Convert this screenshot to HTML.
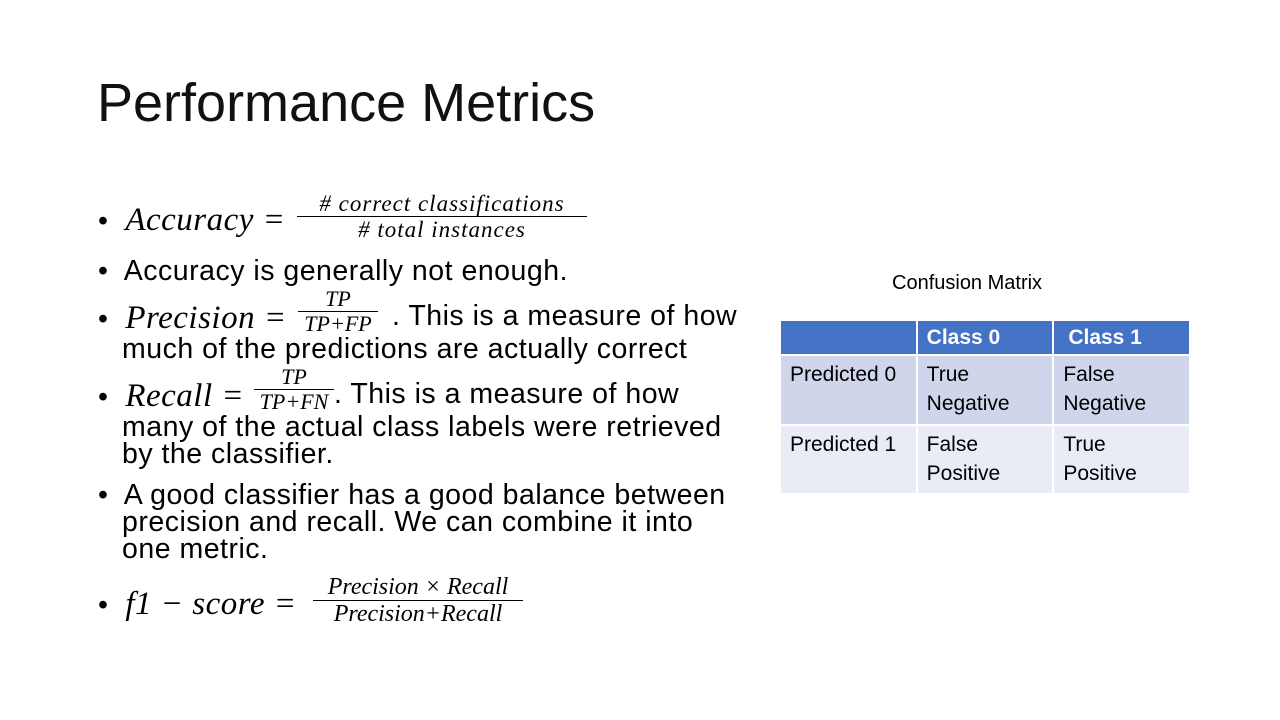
<!DOCTYPE html>
<html><head><meta charset="utf-8"><style>
body{margin:0;width:1280px;height:720px;background:#fff;position:relative;overflow:hidden;font-family:"Liberation Sans",sans-serif;color:#000}
.a{position:absolute;white-space:nowrap}
.m{font-family:"Liberation Serif",serif;font-style:italic;letter-spacing:0.5px}
.b{font-size:28.5px;letter-spacing:0.5px}
.frac{position:absolute;text-align:center;font-family:"Liberation Serif",serif;font-style:italic;line-height:1.1;letter-spacing:0}
.frac .n{border-bottom:1.5px solid #000;padding:0 2px}
table{border-collapse:collapse;font-size:21px;table-layout:fixed;width:412px}
td{padding:4px 9px;vertical-align:top;border:2px solid #fff;line-height:29px}
</style></head><body>
<div class="a" style="left:97px;top:72px;font-size:54px;color:#111">Performance Metrics</div>

<div class="a b" style="left:98px;top:202px">•&nbsp; <span class="m" style="font-size:33px">Accuracy =</span></div>
<div class="frac" style="left:297px;top:191px;font-size:23px;letter-spacing:1px;width:290px"><div class="n">#&nbsp;correct classifications</div><div>#&nbsp;total instances</div></div>

<div class="a b" style="left:98px;top:255px">•&nbsp; Accuracy is generally not enough.</div>

<div class="a b" style="left:98px;top:300px">•&nbsp; <span class="m" style="font-size:33px">Precision =</span></div>
<div class="frac" style="left:298px;top:287px;font-size:22px;width:80px"><div class="n">TP</div><div>TP+FP</div></div>
<div class="a b" style="left:392px;top:300px">. This is a measure of how</div>
<div class="a b" style="left:122px;top:333px">much of the predictions are actually correct</div>

<div class="a b" style="left:98px;top:378px">•&nbsp; <span class="m" style="font-size:33px">Recall =</span></div>
<div class="frac" style="left:254px;top:365px;font-size:22px;width:80px"><div class="n">TP</div><div>TP+FN</div></div>
<div class="a b" style="left:334px;top:378px">. This is a measure of how</div>
<div class="a b" style="left:122px;top:411px">many of the actual class labels were retrieved</div>
<div class="a b" style="left:122px;top:438px">by the classifier.</div>

<div class="a b" style="left:98px;top:479px">•&nbsp; A good classifier has a good balance between</div>
<div class="a b" style="left:122px;top:506px">precision and recall. We can combine it into</div>
<div class="a b" style="left:122px;top:533px">one metric.</div>

<div class="a b" style="left:98px;top:586px">•&nbsp; <span class="m" style="font-size:33px">f1 − score =</span></div>
<div class="frac" style="left:313px;top:574px;font-size:24px;width:210px"><div class="n">Precision × Recall</div><div>Precision+Recall</div></div>

<div class="a" style="left:892px;top:272px;font-size:20px">Confusion Matrix</div>
<table class="a" style="left:779px;top:319px">
<tr style="background:#4472C4;color:#fff;font-weight:bold"><td style="height:29px;padding:2px 9px"></td><td style="padding:2px 9px">Class 0</td><td style="padding:2px 14px">Class 1</td></tr>
<tr style="background:#CFD5EA"><td style="height:60px">Predicted 0</td><td>True<br>Negative</td><td>False<br>Negative</td></tr>
<tr style="background:#E9EBF5"><td style="height:59px">Predicted 1</td><td>False<br>Positive</td><td>True<br>Positive</td></tr>
</table>
</body></html>
